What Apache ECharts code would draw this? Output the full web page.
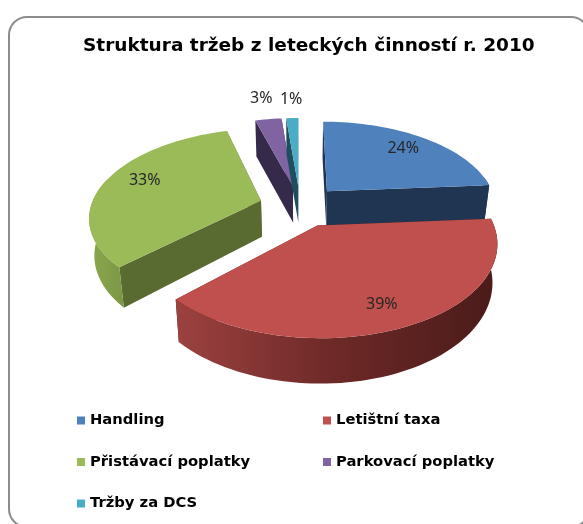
<!DOCTYPE html>
<html lang="cs">
<head>
  <meta charset="UTF-8" />
  <title>Struktura tržeb</title>
  <script src="https://cdn.jsdelivr.net/npm/echarts@6/dist/echarts.min.js"></script>
  <style>
    body { margin: 0; background: #fff; }
    #chart { width: 583px; height: 524px; }
  </style>
</head>
<body>
  <div id="chart"></div>
  <script>
    const categories = ["Handling", "Letištní taxa", "Přistávací poplatky", "Parkovací poplatky", "Tržby za DCS"];
    const shares = [23.8, 38.9, 32.9, 3.0, 1.4];

    const topColors = ["#4F81BD", "#C0504D", "#9BBB59", "#8064A2", "#4BACC6"];
    const cutColors = ["#1F3552", "#4A1B19", "#5A6B32", "#362A4B", "#1F4F5E"];
    const wallColors = [
      ["#1F3552", "#1F3552", "#1F3552"],
      ["#9C4240", "#6C2927", "#4A1B19"],
      ["#8AA64D", "#84A04A", "#7C9545"],
      ["#362A4B", "#362A4B", "#362A4B"],
      ["#1F4F5E", "#1F4F5E", "#1F4F5E"]
    ];
    const labelRadius = [0.7, 0.75, 0.72, 1.25, 1.25];
    const labelShiftX = [6, 0, -4, -2, 0];
    const labelShiftY = [-5, 7, -5, -7, -4];

    // fake 3D: disc coordinates go through a small perspective projection
    const cx = 300, cy = 206, rx = 170, ry = 86, persp = 0.17, explode = 0.24, depth = 36, floorScale = 0.975;
    const rad = d => d * Math.PI / 180;

    function project(u, v, down) {
      const s = 1 / (1 - persp * v);
      const x = cx + rx * u * s;
      const y = cy + ry * v * s;
      if (!down) return [x, y];
      return [cx + (x - cx) * floorScale, y + depth * Math.max(s, 1)];
    }

    function slicePoint(a, r, mid, down) {
      const u = Math.sin(rad(a)) * r + Math.sin(rad(mid)) * explode;
      const v = -Math.cos(rad(a)) * r - Math.cos(rad(mid)) * explode;
      return project(u, v, down);
    }

    function arcPoints(a0, a1, mid, down) {
      const pts = [];
      const n = Math.max(2, Math.ceil((a1 - a0) / 2));
      for (let i = 0; i <= n; i++) pts.push(slicePoint(a0 + (a1 - a0) * i / n, 1, mid, down));
      return pts;
    }

    const total = shares.reduce((a, b) => a + b, 0);
    let acc = 0;
    const ranges = shares.map(v => {
      const r = [acc / total * 360, (acc + v) / total * 360];
      acc += v;
      return r;
    });

    function renderSlice(i) {
      const [a0, a1] = ranges[i];
      const mid = (a0 + a1) / 2;
      const kids = [];

      // cut faces
      [a0, a1].forEach(a => {
        kids.push({
          type: "polygon",
          shape: { points: [slicePoint(a, 0, mid), slicePoint(a, 1, mid), slicePoint(a, 1, mid, true), slicePoint(a, 0, mid, true)] },
          style: { fill: cutColors[i] }
        });
      });

      // outer wall, only the part turned to the viewer
      const w0 = Math.max(a0, 80), w1 = Math.min(a1, 285);
      if (w1 > w0) {
        const pts = arcPoints(w0, w1, mid).concat(arcPoints(w0, w1, mid, true).reverse());
        kids.push({
          type: "polygon",
          shape: { points: pts },
          style: {
            fill: {
              type: "linear", x: 0, y: 0, x2: 1, y2: 0,
              colorStops: [
                { offset: 0, color: wallColors[i][0] },
                { offset: 0.5, color: wallColors[i][1] },
                { offset: 1, color: wallColors[i][2] }
              ]
            }
          }
        });
      }

      // top face
      kids.push({
        type: "polygon",
        shape: { points: [slicePoint(a0, 0, mid)].concat(arcPoints(a0, a1, mid)) },
        style: { fill: topColors[i] }
      });

      const lp = slicePoint(mid, labelRadius[i], mid);
      kids.push({
        type: "text",
        x: lp[0] + labelShiftX[i],
        y: lp[1] + labelShiftY[i],
        style: {
          text: Math.round(shares[i]) + "%",
          fill: "#262626",
          font: "16px 'Noto Sans', sans-serif",
          align: "center",
          verticalAlign: "middle"
        }
      });
      return { type: "group", children: kids };
    }

    const legendFont = { fontFamily: "DejaVu Sans", fontWeight: "bold", fontSize: 14.75, color: "#000" };
    const chart = echarts.init(document.getElementById("chart"));
    chart.setOption({
      animation: false,
      color: topColors,
      title: {
        text: "Struktura tržeb z leteckých činností r. 2010",
        left: 78,
        top: 32,
        textStyle: { fontFamily: "DejaVu Sans", fontWeight: "bold", fontSize: 18.5, color: "#000" }
      },
      graphic: [{
        type: "rect",
        shape: { x: 9, y: 17, width: 580, height: 510, r: 18 },
        style: { fill: "none", stroke: "#8C8C8C", lineWidth: 2 }
      }],
      legend: [
        {
          orient: "vertical", left: 72, top: 408, itemGap: 26.5, itemWidth: 8, itemHeight: 8, icon: "rect",
          data: [categories[0], categories[2], categories[4]], textStyle: legendFont, selectedMode: false
        },
        {
          orient: "vertical", left: 318, top: 408, itemGap: 26.5, itemWidth: 8, itemHeight: 8, icon: "rect",
          data: [categories[1], categories[3]], textStyle: legendFont, selectedMode: false
        }
      ],
      series: categories.map((name, i) => ({
        type: "custom",
        name: name,
        coordinateSystem: "none",
        data: [shares[i]],
        itemStyle: { color: topColors[i] },
        renderItem: () => renderSlice(i)
      }))
    });
  </script>
</body>
</html>
